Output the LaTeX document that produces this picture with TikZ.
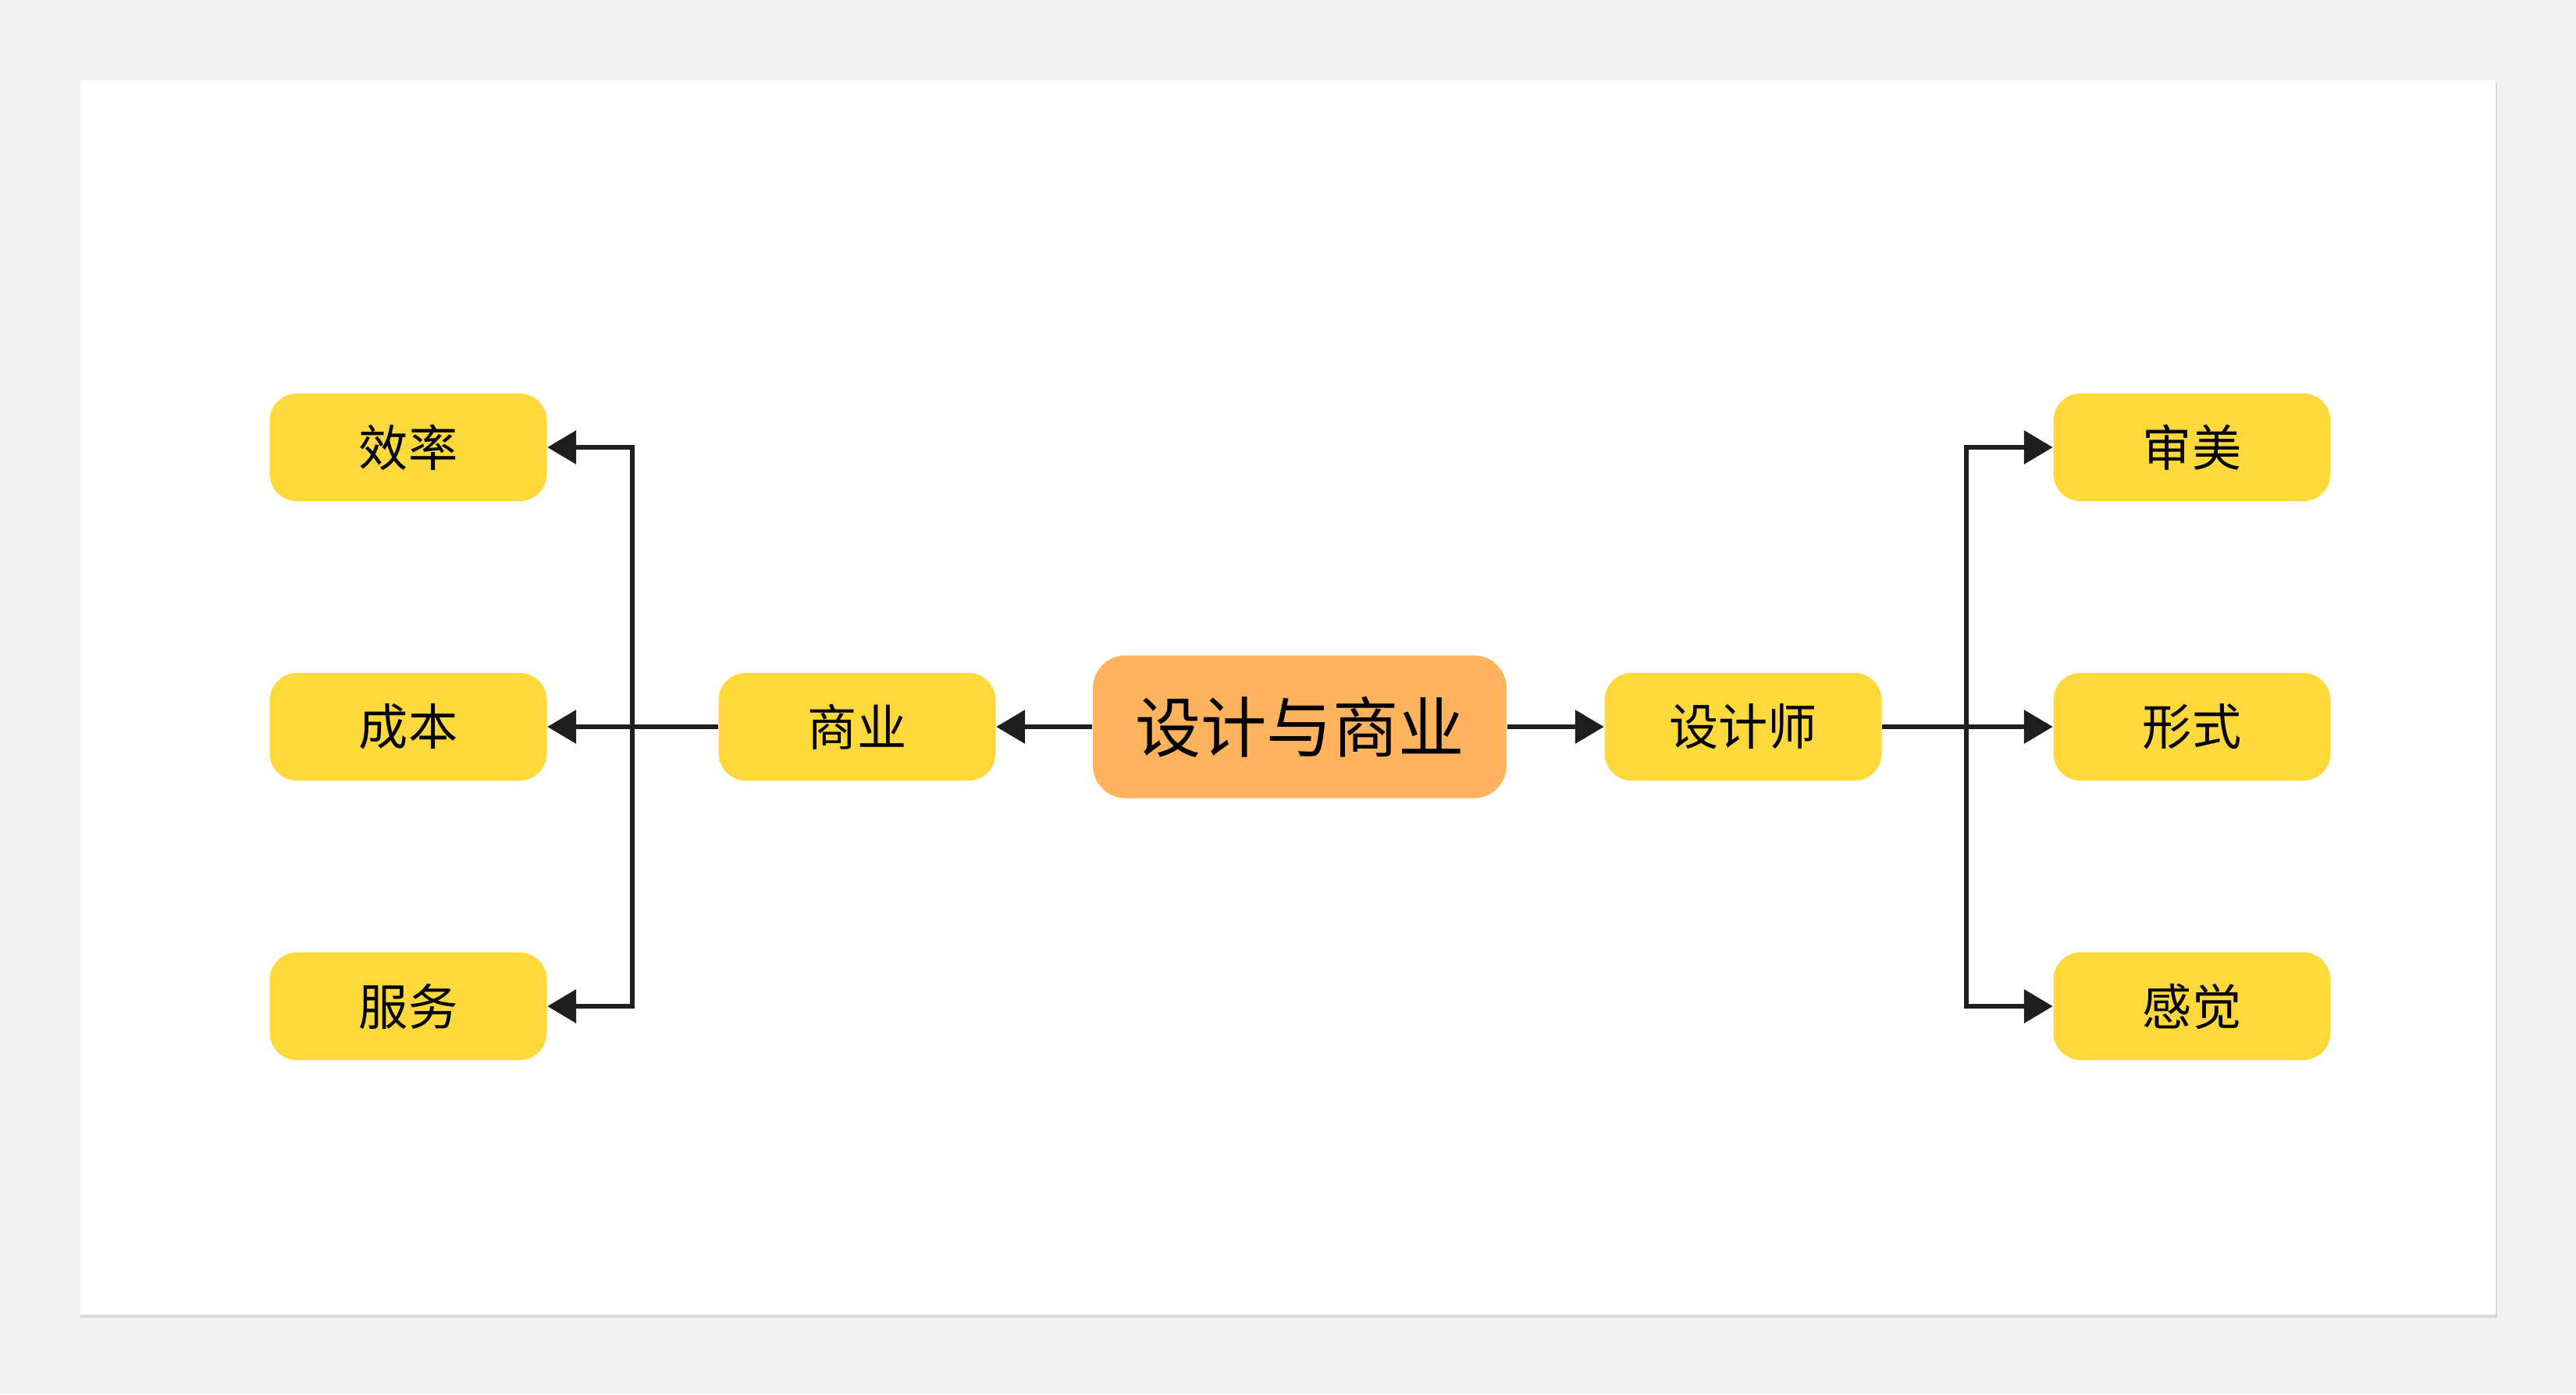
\documentclass[tikz,border=0pt]{standalone}
\usepackage{fontspec}
\setmainfont{Noto Sans CJK SC}
\usetikzlibrary{arrows.meta}
\definecolor{bggray}{HTML}{F2F2F2}
\definecolor{shadowgray}{HTML}{D9D9D9}
\definecolor{leafyellow}{HTML}{FFD83B}
\definecolor{coreorange}{HTML}{FFB35C}
\definecolor{inkline}{HTML}{1E1E1E}
\tikzset{
    box/.style={fill=leafyellow, rounded corners=0.35cm, minimum width=3.55cm,
        minimum height=1.38cm, inner sep=0pt, font=\fontsize{18pt}{22pt}\selectfont},
    corebox/.style={fill=coreorange, rounded corners=0.42cm, minimum width=5.3cm,
        minimum height=1.83cm, inner sep=0pt, font=\fontsize{24pt}{28pt}\selectfont},
    link/.style={draw=inkline, line width=1.85pt},
    linkarrow/.style={link, -{Triangle[length=0.37cm, width=0.42cm]}}
}
\begin{document}
\begin{tikzpicture}
        \useasboundingbox (0,0) rectangle (33,-17.86);
        \fill[bggray] (0,0) rectangle (33,-17.86);
        \fill[shadowgray] (1.03,-1.06) rectangle (31.99,-16.88);
        \fill[white] (1.03,-1.03) rectangle (31.97,-16.84);
        % centre and first level
        \node[corebox] (core) at (16.65,-9.31) {设计与商业};
        \node[box] (biz) at (10.98,-9.31) {商业};
        \node[box] (des) at (22.33,-9.31) {设计师};
        % left leaves
        \node[box] (eff) at (5.23,-5.73) {效率};
        \node[box] (cost) at (5.23,-9.31) {成本};
        \node[box] (serv) at (5.23,-12.89) {服务};
        % right leaves
        \node[box] (aes) at (28.08,-5.73) {审美};
        \node[box] (form) at (28.08,-9.31) {形式};
        \node[box] (feel) at (28.08,-12.89) {感觉};
        \coordinate (lj) at (8.10,-9.31);
        \coordinate (rj) at (25.19,-9.31);
        \draw[linkarrow] (core.west) -- (biz.east);
        \draw[linkarrow] (core.east) -- (des.west);
        \draw[link] (biz.west) -- (lj);
        \foreach \n in {eff,cost,serv} {
            \draw[linkarrow] (lj) |- (\n.east);
        }
        \draw[link] (des.east) -- (rj);
        \foreach \n in {aes,form,feel} {
            \draw[linkarrow] (rj) |- (\n.west);
        }
    \end{tikzpicture}
\end{document}
